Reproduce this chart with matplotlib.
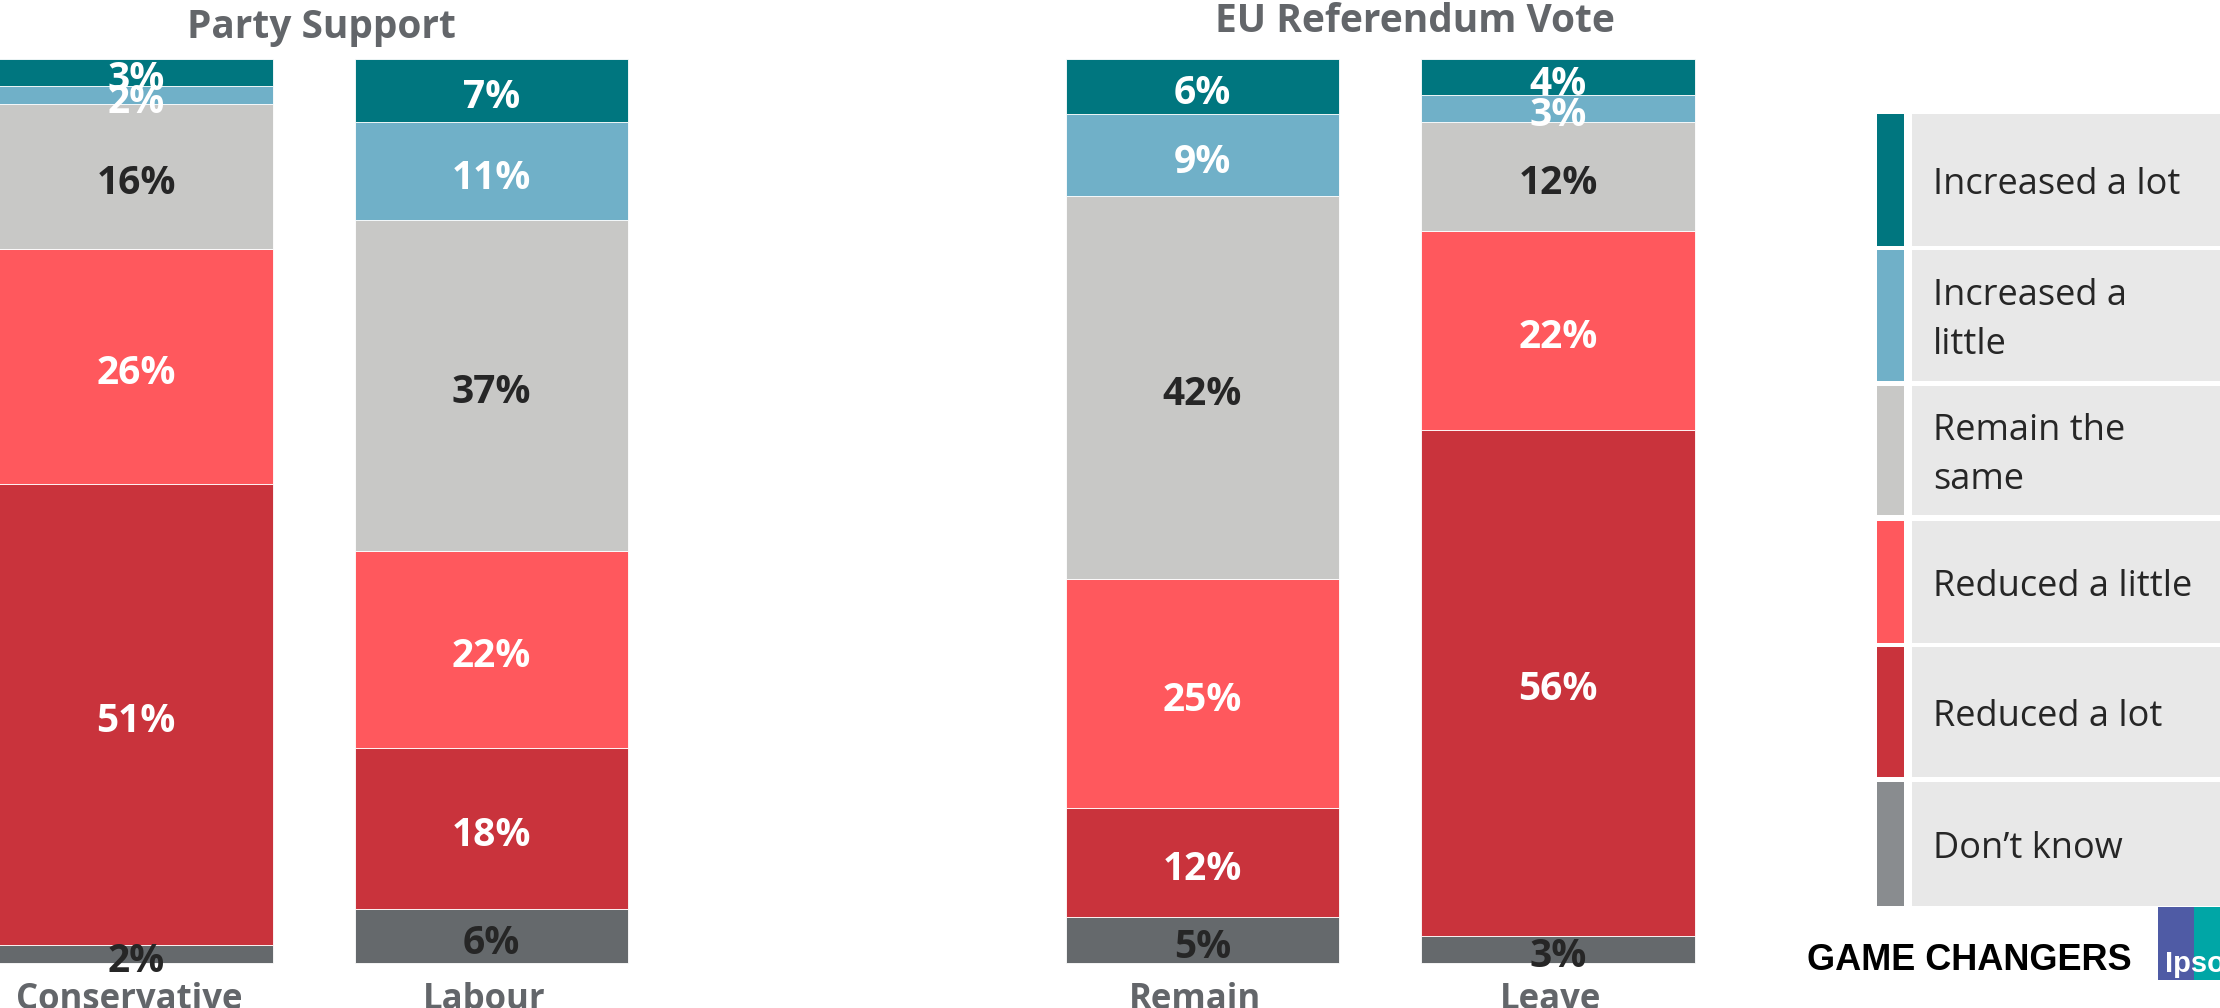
import matplotlib.pyplot as plt
from matplotlib.patches import Rectangle
import numpy as np

plt.rcParams['font.family'] = ['Open Sans', 'DejaVu Sans']

groups = ["Conservative", "Labour", "Remain", "Leave"]
titles = ["Party Support", "EU Referendum Vote"]
responses = ["Increased a lot", "Increased a\nlittle", "Remain the\nsame",
             "Reduced a little", "Reduced a lot", "Don\u2019t know"]

increased_lot = [3, 7, 6, 4]
increased_little = [2, 11, 9, 3]
remain_same = [16, 37, 42, 12]
reduced_little = [26, 22, 25, 22]
reduced_lot = [51, 18, 12, 56]
dont_know = [2, 6, 5, 3]

# top-to-bottom order, same as the legend
series = [increased_lot, increased_little, remain_same,
          reduced_little, reduced_lot, dont_know]
colors = ['#00767F', '#70B0C8', '#C8C8C6', '#FF585D', '#C9333C', '#65696C']
legend_colors = ['#00767F', '#70B0C8', '#C8C8C6', '#FF585D', '#C9333C', '#898C8F']
label_colors = ['white', 'white', '#262626', 'white', 'white', '#262626']

W, H = 2220, 1008
fig = plt.figure(figsize=(W / 100, H / 100), dpi=100)

# bars axes: one x unit = 355.5 px, 100% = 904 px, baseline at 963 px
unit = 355.5
ax = fig.add_axes([0, 0, 1, 1])
ax.set_xlim(-136 / unit, (W - 136) / unit)
ax.set_ylim((963 - H) / 9.04, 963 / 9.04)
ax.axis('off')

x = np.array([0, 1, 3, 4])
data = np.array(series, dtype=float)
totals = data.sum(axis=0)
shares = data / totals * 100

bottom = np.zeros(len(groups))
for i in range(len(series) - 1, -1, -1):
    ax.bar(x, shares[i], 0.768, bottom=bottom, color=colors[i],
           edgecolor='white', linewidth=0.6)
    for j in range(len(groups)):
        ax.text(x[j], bottom[j] + shares[i][j] / 2 - 0.8, f"{series[i][j]}%",
                ha='center', va='center', fontsize=28, fontweight='bold',
                color=label_colors[i])
    bottom += shares[i]

for j, g in enumerate(groups):
    ax.text(x[j] - 0.02, (963 - 1009) / 9.04, g, ha='center', va='baseline',
            fontsize=25, fontweight='bold', color='#63666A')

# overlay in pixel coordinates for titles and legend
lax = fig.add_axes([0, 0, 1, 1])
lax.set_xlim(0, W)
lax.set_ylim(H, 0)
lax.axis('off')

lax.text(321, 38, titles[0], ha='center', va='baseline', fontsize=28,
         fontweight='bold', color='#63666A')
lax.text(1415, 32, titles[1], ha='center', va='baseline', fontsize=28,
         fontweight='bold', color='#63666A')

rows = [(114, 246), (250, 381), (386, 515), (521, 643), (647, 777), (782, 906)]
for (top, bot), lab, c in zip(rows, responses, legend_colors):
    lax.add_patch(Rectangle((1877, top), 27, bot - top, color=c, lw=0))
    lax.add_patch(Rectangle((1912, top), 330, bot - top, color='#E8E8E8', lw=0))
    lax.text(1933, (top + bot) / 2 + 5, lab, ha='left', va='center', fontsize=26,
             color='#262626', linespacing=1.5)

lax.text(2132, 960, "GAME CHANGERS", ha='right', va='center', fontsize=26,
         fontweight='bold', color='black', family='Liberation Sans')

lax.add_patch(Rectangle((2158, 907), 40, 73, color='#4F5BA5', lw=0))
lax.add_patch(Rectangle((2194, 907), 40, 73, color='#00A6A6', lw=0))
lax.text(2165, 972, "Ipsos", ha='left', va='baseline', fontsize=21,
         fontweight='bold', color='white', family='Liberation Sans')

fig.savefig('out.png', dpi=100)
